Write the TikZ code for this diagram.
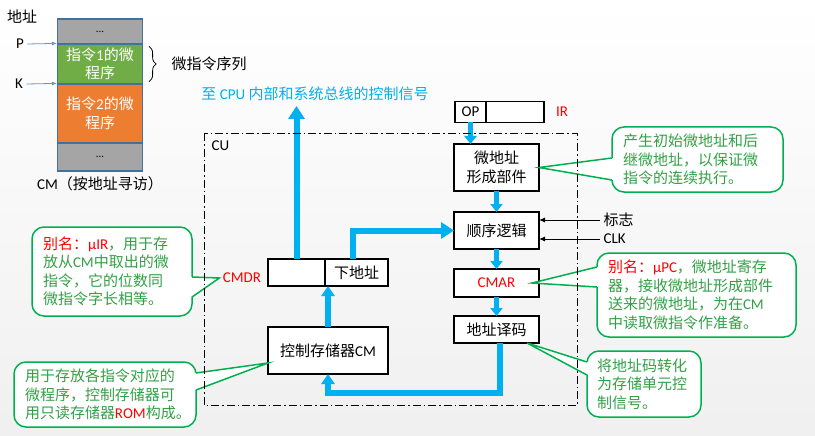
\documentclass[tikz,border=0pt]{standalone}
\usepackage{fontspec}
\setmainfont{Noto Sans CJK SC}
\newfontfamily\latf{Carlito}
\usetikzlibrary{arrows.meta,positioning,calc,decorations.pathreplacing}

\definecolor{cmgray}{HTML}{A5A5A5}
\definecolor{cmgreen}{HTML}{70AD47}
\definecolor{cmorange}{HTML}{ED7D31}
\definecolor{cmborder}{HTML}{41719C}
\definecolor{busblue}{HTML}{00B0F0}
\definecolor{ptrblue}{HTML}{5B9BD5}
\definecolor{notegreen}{HTML}{00B050}
\definecolor{notetext}{HTML}{33A047}

\begin{document}
\begin{tikzpicture}[
    x=1pt, y=-1pt,
    font=\fontsize{15}{18.5}\selectfont,
    % memory column cells
    cmcell/.style={
        rectangle,
        draw=cmborder,
        line width=1.2pt,
        minimum width=85pt,
        inner sep=0pt,
        align=center,
        text=white
    },
    % CU units
    unitbox/.style={
        rectangle,
        draw=black,
        line width=1.8pt,
        fill=white,
        minimum width=85pt,
        inner sep=0pt,
        outer sep=0pt,
        align=center
    },
    % green remarks
    notebox/.style={
        rectangle,
        rounded corners=12pt,
        draw=notegreen,
        line width=1.5pt,
        fill=white,
        text=notetext,
        align=left,
        inner xsep=11pt,
        inner ysep=0pt
    },
    notewedge/.style={draw=notegreen, line width=1.5pt},
    redlbl/.style={font=\fontsize{15}{18}\selectfont\latf, text=red},
    busarrow/.style={draw=busblue, line width=6pt, -{Triangle[width=16pt,length=13pt]}},
    linkarrow/.style={draw=busblue, line width=5pt, -{Triangle[width=12pt,length=8pt]}},
    ptrarrow/.style={draw=ptrblue, line width=0.8pt, -{Latex[length=5pt,width=4pt]}},
    flagarrow/.style={draw=black, line width=1pt, -{Latex[length=6pt,width=5pt]}}
]
    \useasboundingbox (0,0) rectangle (815,436);
    \shade[top color=white, bottom color=black!6] (0,0) rectangle (815,436);

    % --- control memory column ---
    \node at (22,17) (addrlbl) {地址};
    \node[cmcell, fill=cmgray, minimum height=25pt, text=black] (cmtop) at (100,31.5) {\latf\fontsize{11}{11}\selectfont ...};
    \node[cmcell, fill=cmgreen, minimum height=40pt] (prog1) at (100,64) {指令{\latf 1}的微\\程序};
    \node[cmcell, fill=cmorange, minimum height=59pt] (prog2) at (100,113.5) {指令{\latf 2}的微\\程序};
    \node[cmcell, fill=cmgray, minimum height=28pt, text=black] (cmbot) at (100,157) {\latf\fontsize{11}{11}\selectfont ...};
    \node (plbl) at (20,44) {\latf P};
    \node (klbl) at (19,84) {\latf K};
    \draw[ptrarrow] (plbl.east) -- (prog1.north west);
    \draw[ptrarrow] (klbl.east) -- (prog2.north west);
    \draw[decorate, decoration={brace, amplitude=7pt}, line width=0.8pt]
        ([xshift=6pt,yshift=-3pt]prog1.north east) -- ([xshift=6pt,yshift=3pt]prog1.south east);
    \node[anchor=west] (seqlbl) at (168,64) {微指令序列};
    \node (cmcap) at (100,184) {{\latf CM}（按地址寻访）};

    \node[text=busblue] (sigtxt) at (315,94) {至 {\latf CPU} 内部和系统总线的控制信号};
    \coordinate (sigtip) at (298,106);

    % --- IR and the address path ---
    \node[unitbox, minimum width=31pt, minimum height=21pt] (opcell) at (470.5,112) {\latf OP};
    \node[unitbox, minimum width=58pt, minimum height=21pt, right=0pt of opcell] (irrest) {};
    \node[redlbl] (irlbl) at (562,112) {IR};
    \node[unitbox, minimum height=47pt] (maddr) at (496.5,167.5) {微地址\\形成部件};
    \node[unitbox, minimum height=37pt] (seq) at (496.5,230.5) {顺序逻辑};
    \node[unitbox, minimum height=28pt, text=red] (cmar) at (496.5,283) {\latf CMAR};
    \node[unitbox, minimum height=27pt] (dec) at (496.5,329.5) {地址译码};
    \node[anchor=west] (flaglbl) at (600,220) {标志};
    \node[anchor=west] (clklbl) at (600,239) {\latf CLK};

    % --- control memory and its data register ---
    \node[unitbox, minimum width=120pt, minimum height=47pt] (cmem) at (328,350.5) {控制存储器{\latf CM}};
    \node[unitbox, minimum width=57pt, minimum height=27pt] (cmdrop) at (296.5,272.5) {};
    \node[unitbox, minimum width=63pt, minimum height=27pt, right=0pt of cmdrop] (cmdrad) {下地址};
    \node[redlbl] (cmdrlbl) at (242,278) {CMDR};

    % --- data paths ---
    \draw[busarrow] (cmdrop.north) -- (cmdrop.north |- sigtip);
    \draw[busarrow] ([xshift=-3.5pt]cmdrad.north) |- (seq.west);
    \draw[busarrow, -{Triangle[width=13pt,length=10pt]}] (cmem.north) -- (cmem.north |- cmdrop.south);
    \draw[busarrow, -{Triangle[width=13pt,length=10pt]}] ([xshift=3.5pt]dec.south) -- ++(0,50) -| (cmem.south);
    \draw[linkarrow] (opcell.south) -- (opcell.south |- maddr.north);
    \draw[linkarrow] (maddr.south) -- (seq.north);
    \draw[linkarrow] (seq.south) -- (cmar.north);
    \draw[linkarrow] (cmar.south) -- (dec.north);
    \draw[flagarrow] (flaglbl.west) -- (flaglbl.west -| seq.east);
    \draw[flagarrow] (clklbl.west) -- (clklbl.west -| seq.east);

    % --- remarks ---
    \node[notebox, text width=138pt, minimum height=89pt] (irnote) at (112,271.5)
        {{\color{red}别名：{\latf μIR}}，用于存\\放从{\latf CM}中取出的微\\指令，它的位数同\\微指令字长相等。};
    \node[notebox, text width=149pt, minimum height=65pt] (madnote) at (697.5,159.5)
        {产生初始微地址和后\\继微地址，以保证微\\指令的连续执行。};
    \node[notebox, text width=177pt, minimum height=84pt] (pcnote) at (696.5,295)
        {{\color{red}别名：{\latf μPC}}，微地址寄存\\器，接收微地址形成部件\\送来的微地址，为在{\latf CM}\\中读取微指令作准备。};
    \node[notebox, text width=94pt, minimum height=66pt, inner xsep=10pt] (decnote) at (644,384)
        {将地址码转化\\为存储单元控\\制信号。};
    \node[notebox, text width=160pt, minimum height=65pt] (cmnote) at (105,394.5)
        {用于存放各指令对应的\\微程序，控制存储器可\\用只读存储器{\color{red}\latf ROM}构成。};

    % wedges of the remarks
    \fill[white] ($(irnote.east)+(-2,5.5)$) -- (cmdrlbl.west) -- ($(irnote.east)+(-2,25.5)$) -- cycle;
    \draw[notewedge] ($(irnote.east)+(-0.7,5.5)$) -- (cmdrlbl.west) -- ($(irnote.east)+(-0.7,25.5)$);
    \fill[white] ($(madnote.west)+(2,-1.5)$) -- (maddr.east) -- ($(madnote.west)+(2,20.5)$) -- cycle;
    \draw[notewedge] ($(madnote.west)+(0.7,-1.5)$) -- (maddr.east) -- ($(madnote.west)+(0.7,20.5)$);
    \fill[white] ($(pcnote.west)+(2,-28)$) -- ([xshift=-7pt]cmar.east) -- ($(pcnote.west)+(2,-8)$) -- cycle;
    \draw[notewedge] ($(pcnote.west)+(0.7,-28)$) -- ([xshift=-7pt]cmar.east) -- ($(pcnote.west)+(0.7,-8)$);
    \fill[white] ($(decnote.west)+(2,-22)$) -- ([xshift=-12pt]dec.south east) -- ($(decnote.west)+(2,-9)$) -- cycle;
    \draw[notewedge] ($(decnote.west)+(0.7,-22)$) -- ([xshift=-12pt]dec.south east) -- ($(decnote.west)+(0.7,-9)$);
    \fill[white] ($(cmnote.east)+(-2,-21.5)$) -- ([yshift=11pt]cmem.south west) -- ($(cmnote.east)+(-2,-4.5)$) -- cycle;
    \draw[notewedge] ($(cmnote.east)+(-0.7,-21.5)$) -- ([yshift=11pt]cmem.south west) -- ($(cmnote.east)+(-0.7,-4.5)$);

    % --- control unit frame ---
    \draw[dash pattern=on 8pt off 3pt on 1.5pt off 3pt, line width=0.8pt] (204,133) rectangle (577,405);
    \node[anchor=west] (culbl) at (208,146) {\latf CU};
\end{tikzpicture}
\end{document}
